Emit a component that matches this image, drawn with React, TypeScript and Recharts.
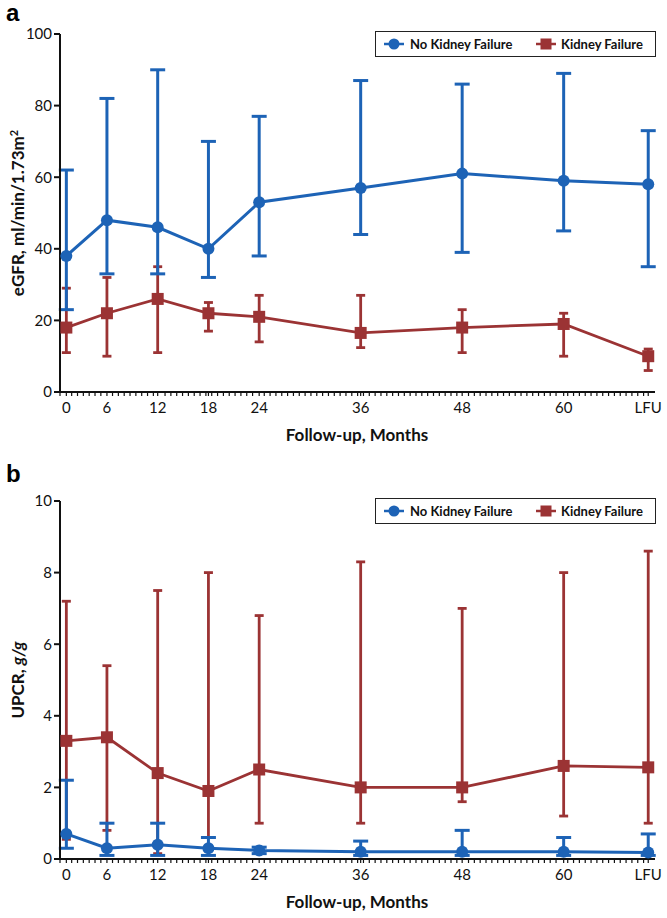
import React from 'react';
import { LineChart, Line, XAxis, YAxis, ErrorBar, Legend } from 'recharts';

// follow-up visits (LFU = last follow-up)
const months = ['0', '6', '12', '18', '24', '36', '48', '60', 'LFU'];
const xPos = [1.2, 6, 12, 18, 24, 36, 48, 60, 70];

// panel a: eGFR
const egfrNoKf = [38, 48, 46, 40, 53, 57, 61, 59, 58];
const egfrNoKfLow = [23, 33, 33, 32, 38, 44, 39, 45, 35];
const egfrNoKfHigh = [62, 82, 90, 70, 77, 87, 86, 89, 73];
const egfrKf = [18, 22, 26, 22, 21, 16.5, 18, 19, 10];
const egfrKfLow = [11, 10, 11, 17, 14, 12.4, 11, 10, 6];
const egfrKfHigh = [29, 32, 35, 25, 27, 27, 23, 22, 12];
const egfrTicks = [0, 20, 40, 60, 80, 100];

// panel b: UPCR
const upcrNoKf = [0.7, 0.3, 0.4, 0.3, 0.24, 0.2, 0.2, 0.2, 0.18];
const upcrNoKfLow = [0.3, 0.1, 0.1, 0.1, 0.15, 0.1, 0.1, 0.1, 0.1];
const upcrNoKfHigh = [2.2, 1.0, 1.0, 0.6, 0.33, 0.5, 0.8, 0.6, 0.7];
const upcrKf = [3.3, 3.4, 2.4, 1.9, 2.5, 2.0, 2.0, 2.6, 2.56];
const upcrKfLow = [0.55, 0.8, 0.15, 0.6, 1.0, 1.0, 1.6, 1.2, 1.0];
const upcrKfHigh = [7.2, 5.4, 7.5, 8.0, 6.8, 8.3, 7.0, 8.0, 8.6];
const upcrTicks = [0, 2, 4, 6, 8, 10];

const BLUE = '#1d63b6';
const RED = '#9b3334';
const INK = '#111';
const FONT = 'Lato, "Open Sans", sans-serif';
const X_DOMAIN: [number, number] = [0.45, 70.8];

// small ticks along the x axis, the labelled ones are the visit positions
const minorTicks = Array.from({ length: 103 }, (_, i) => X_DOMAIN[0] + i * 0.69).filter(
  (t) => t <= X_DOMAIN[1] && xPos.every((p) => Math.abs(p - t) > 0.3)
);
const allXTicks = [...minorTicks, ...xPos].sort((a, b) => a - b);

const buildRows = (
  noKf: number[], noKfLow: number[], noKfHigh: number[],
  kf: number[], kfLow: number[], kfHigh: number[]
) =>
  xPos.map((x, i) => ({
    x,
    noKf: noKf[i],
    noKfErr: [noKf[i] - noKfLow[i], noKfHigh[i] - noKf[i]],
    kf: kf[i],
    kfErr: [kf[i] - kfLow[i], kfHigh[i] - kf[i]],
  }));

const egfrRows = buildRows(egfrNoKf, egfrNoKfLow, egfrNoKfHigh, egfrKf, egfrKfLow, egfrKfHigh);
const upcrRows = buildRows(upcrNoKf, upcrNoKfLow, upcrNoKfHigh, upcrKf, upcrKfLow, upcrKfHigh);

const LegendBox = () => (
  <div
    style={{
      position: 'relative',
      width: 281,
      height: 26,
      boxSizing: 'border-box',
      border: '1.5px solid #222',
      background: '#fff',
      fontFamily: FONT,
      fontWeight: 700,
      fontSize: 13,
      color: INK,
    }}
  >
    <svg width={20} height={12} style={{ position: 'absolute', left: 8, top: 6 }}>
      <line x1={0} y1={6} x2={20} y2={6} stroke={BLUE} strokeWidth={2.5} />
      <circle cx={10} cy={6} r={5.5} fill={BLUE} />
    </svg>
    <span style={{ position: 'absolute', left: 34, top: 4, whiteSpace: 'nowrap' }}>No Kidney Failure</span>
    <svg width={20} height={12} style={{ position: 'absolute', left: 160, top: 6 }}>
      <line x1={0} y1={6} x2={20} y2={6} stroke={RED} strokeWidth={2.5} />
      <rect x={4.5} y={0.5} width={11} height={11} fill={RED} />
    </svg>
    <span style={{ position: 'absolute', left: 185, top: 4, whiteSpace: 'nowrap' }}>Kidney Failure</span>
  </div>
);

const XTick = (p: any) => {
  const i = xPos.indexOf(p.payload.value);
  if (i < 0) return <g />;
  return (
    <text x={p.x} y={p.y} dy="0.71em" textAnchor="middle" fill={INK} fontSize={15} fontFamily={FONT}>
      {months[i]}
    </text>
  );
};

const Circle = (p: any) => <circle key={`c${p.index}`} cx={p.cx} cy={p.cy} r={6} fill={BLUE} />;
const Square = (p: any) => (
  <rect key={`s${p.index}`} x={p.cx - 6} y={p.cy - 6} width={12} height={12} fill={RED} />
);

interface PanelProps {
  top: number;
  letter: string;
  letterTop: number;
  rows: ReturnType<typeof buildRows>;
  yTicks: number[];
  yTitle: React.ReactNode;
}

const Panel = ({ top, letter, letterTop, rows, yTicks, yTitle }: PanelProps) => (
  <div style={{ position: 'absolute', left: 0, top, width: 667, height: 451 }}>
    <LineChart width={667} height={440} data={rows} margin={{ top: 34, right: 12, bottom: 0, left: 20 }}>
      <XAxis
        type="number"
        dataKey="x"
        domain={X_DOMAIN}
        allowDataOverflow
        ticks={allXTicks}
        interval={0}
        height={48}
        axisLine={{ stroke: INK, strokeWidth: 2 }}
        tickLine={{ stroke: INK, strokeWidth: 1.2 }}
        tickSize={4}
        tickMargin={6}
        tick={XTick}
      />
      <YAxis
        type="number"
        domain={[yTicks[0], yTicks[yTicks.length - 1]]}
        ticks={yTicks}
        interval={0}
        width={40}
        axisLine={{ stroke: INK, strokeWidth: 2 }}
        tickLine={{ stroke: INK, strokeWidth: 2 }}
        tickSize={6}
        tickMargin={2}
        tick={{ fill: INK, fontSize: 15, fontFamily: FONT }}
      />
      <Legend
        layout="vertical"
        align="center"
        verticalAlign="middle"
        content={() => <LegendBox />}
        wrapperStyle={{ position: 'absolute', left: 375, top: 31, width: 281, height: 26 }}
      />
      <Line
        dataKey="kf"
        name="Kidney Failure"
        stroke={RED}
        strokeWidth={2.8}
        dot={Square}
        activeDot={false}
        isAnimationActive={false}
      >
        <ErrorBar dataKey="kfErr" direction="y" width={4.5} stroke={RED} strokeWidth={2.8} />
      </Line>
      <Line
        dataKey="noKf"
        name="No Kidney Failure"
        stroke={BLUE}
        strokeWidth={3}
        dot={Circle}
        activeDot={false}
        isAnimationActive={false}
      >
        <ErrorBar dataKey="noKfErr" direction="y" width={7.5} stroke={BLUE} strokeWidth={3} />
      </Line>
    </LineChart>
    <div
      style={{
        position: 'absolute', left: 6, top: letterTop, fontFamily: '"Liberation Sans", Arial, sans-serif',
        fontWeight: 700, fontSize: 24, lineHeight: '24px', color: '#000',
      }}
    >
      {letter}
    </div>
    <div
      style={{
        position: 'absolute', left: 17, top: 213, transform: 'translate(-50%, -50%) rotate(-90deg)',
        whiteSpace: 'nowrap', fontFamily: FONT, fontWeight: 700, fontSize: 17, color: INK,
      }}
    >
      {yTitle}
    </div>
    <div
      style={{
        position: 'absolute', left: 357, top: 434, transform: 'translate(-50%, -50%)',
        whiteSpace: 'nowrap', fontFamily: FONT, fontWeight: 700, fontSize: 17, color: INK,
      }}
    >
      Follow-up, Months
    </div>
  </div>
);

export default function App() {
  return (
    <div style={{ position: 'absolute', left: 0, top: 0, width: 667, height: 918, background: '#fff' }}>
      <Panel
        top={0}
        letter="a"
        letterTop={1}
        rows={egfrRows}
        yTicks={egfrTicks}
        yTitle={
          <span>
            eGFR, ml/min/1.73m<sup style={{ fontSize: 11 }}>2</sup>
          </span>
        }
      />
      <Panel
        top={467}
        letter="b"
        letterTop={-5}
        rows={upcrRows}
        yTicks={upcrTicks}
        yTitle={
          <span>
            UPCR, <i>g/g</i>
          </span>
        }
      />
    </div>
  );
}
